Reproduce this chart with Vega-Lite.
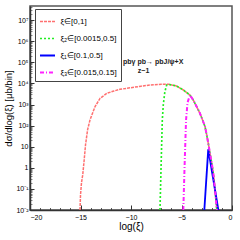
{
  "$schema": "https://vega.github.io/schema/vega-lite/v6.json",
  "width": 202,
  "height": 204,
  "autosize": {"type": "none"},
  "padding": {"left": 30, "top": 6, "right": 8, "bottom": 30},
  "background": "white",
  "config": {
    "font": "Liberation Sans",
    "view": {"stroke": "#555", "strokeWidth": 1.5},
    "axis": {"domainColor": "#333", "domainWidth": 1.5, "tickColor": "#333", "labelColor": "#000", "titleColor": "#000", "grid": false, "labelFont": "Liberation Sans", "titleFont": "Liberation Sans", "titleFontWeight": "normal"}
  },
  "datasets": {
    "curves": [
      {"s": "r", "x": -15.05, "y": 0.01}, {"s": "r", "x": -15.0, "y": 0.05}, {"s": "r", "x": -14.9, "y": 0.2},
      {"s": "r", "x": -14.78, "y": 0.457}, {"s": "r", "x": -14.65, "y": 2.0}, {"s": "r", "x": -14.5, "y": 12.6},
      {"s": "r", "x": -14.3, "y": 63}, {"s": "r", "x": -14.06, "y": 186}, {"s": "r", "x": -13.8, "y": 398},
      {"s": "r", "x": -13.56, "y": 794}, {"s": "r", "x": -13.07, "y": 1950}, {"s": "r", "x": -12.4, "y": 3390},
      {"s": "r", "x": -11.7, "y": 4365}, {"s": "r", "x": -11.1, "y": 5250}, {"s": "r", "x": -10.0, "y": 6310},
      {"s": "r", "x": -9.0, "y": 7413}, {"s": "r", "x": -8.1, "y": 8511}, {"s": "r", "x": -7.0, "y": 9120},
      {"s": "r", "x": -6.3, "y": 9120}, {"s": "r", "x": -5.5, "y": 7586}, {"s": "r", "x": -4.82, "y": 4898},
      {"s": "r", "x": -4.16, "y": 2818}, {"s": "r", "x": -3.83, "y": 1622}, {"s": "r", "x": -3.5, "y": 794},
      {"s": "r", "x": -3.17, "y": 380}, {"s": "r", "x": -2.9, "y": 178}, {"s": "r", "x": -2.67, "y": 89},
      {"s": "r", "x": -2.5, "y": 35.5}, {"s": "r", "x": -2.35, "y": 14.5}, {"s": "r", "x": -2.18, "y": 4.9},
      {"s": "r", "x": -2.0, "y": 1.58}, {"s": "r", "x": -1.85, "y": 0.55}, {"s": "r", "x": -1.68, "y": 0.089},
      {"s": "r", "x": -1.5, "y": 0.01},
      {"s": "g", "x": -7.13, "y": 0.01}, {"s": "g", "x": -7.02, "y": 1.26}, {"s": "g", "x": -6.9, "y": 186},
      {"s": "g", "x": -6.8, "y": 1000}, {"s": "g", "x": -6.65, "y": 3981}, {"s": "g", "x": -6.47, "y": 8318},
      {"s": "g", "x": -6.3, "y": 9120}, {"s": "g", "x": -5.5, "y": 7586}, {"s": "g", "x": -4.82, "y": 4898},
      {"s": "g", "x": -4.16, "y": 2818}, {"s": "g", "x": -3.83, "y": 1622}, {"s": "g", "x": -3.5, "y": 794},
      {"s": "g", "x": -3.17, "y": 380}, {"s": "g", "x": -2.9, "y": 178}, {"s": "g", "x": -2.67, "y": 89},
      {"s": "g", "x": -2.5, "y": 35.5}, {"s": "g", "x": -2.35, "y": 14.5}, {"s": "g", "x": -2.18, "y": 4.9},
      {"s": "g", "x": -2.0, "y": 1.58}, {"s": "g", "x": -1.85, "y": 0.55}, {"s": "g", "x": -1.68, "y": 0.089},
      {"s": "g", "x": -1.5, "y": 0.01},
      {"s": "b", "x": -2.74, "y": 0.01}, {"s": "b", "x": -2.35, "y": 7.6}, {"s": "b", "x": -1.35, "y": 0.01},
      {"s": "m", "x": -4.82, "y": 0.01}, {"s": "m", "x": -4.7, "y": 1}, {"s": "m", "x": -4.55, "y": 186},
      {"s": "m", "x": -4.4, "y": 1259}, {"s": "m", "x": -4.16, "y": 2818}, {"s": "m", "x": -3.83, "y": 1622},
      {"s": "m", "x": -3.5, "y": 794}, {"s": "m", "x": -3.17, "y": 380}, {"s": "m", "x": -2.9, "y": 178},
      {"s": "m", "x": -2.67, "y": 89}, {"s": "m", "x": -2.5, "y": 35.5}, {"s": "m", "x": -2.35, "y": 14.5},
      {"s": "m", "x": -2.18, "y": 4.9}, {"s": "m", "x": -2.0, "y": 1.58}, {"s": "m", "x": -1.85, "y": 0.55},
      {"s": "m", "x": -1.68, "y": 0.089}, {"s": "m", "x": -1.5, "y": 0.01}
    ],
    "notes": [
      {"t": "pbγ pb→ pbJ/ψ+X", "x": -7.8, "y": 100000},
      {"t": "z~1", "x": -8.76, "y": 39000}
    ]
  },
  "resolve": {"axis": {"x": "independent", "y": "independent"}},
  "layer": [
    {
      "data": {"name": "curves"},
      "mark": {"type": "line", "clip": true, "opacity": 0},
      "encoding": {
        "x": {"field": "x", "type": "quantitative", "scale": {"domain": [-20, 0], "nice": false, "zero": false},
          "axis": {"orient": "bottom", "values": [-19,-18,-17,-16,-14,-13,-12,-11,-9,-8,-7,-6,-4,-3,-2,-1], "labels": false, "title": null, "domain": false, "tickSize": -2.5, "tickWidth": 0.8}},
        "y": {"field": "y", "type": "quantitative", "scale": {"type": "log", "domain": [0.01, 47000000], "nice": false},
          "axis": {"orient": "left", "values": [0.02,0.03,0.04,0.05,0.06,0.07,0.08,0.09,0.2,0.3,0.4,0.5,0.6,0.7,0.8,0.9,2,3,4,5,6,7,8,9,20,30,40,50,60,70,80,90,200,300,400,500,600,700,800,900,2000,3000,4000,5000,6000,7000,8000,9000,20000,30000,40000,50000,60000,70000,80000,90000,200000,300000,400000,500000,600000,700000,800000,900000,2000000,3000000,4000000,5000000,6000000,7000000,8000000,9000000,20000000,30000000,40000000], "labels": false, "title": null, "domain": false, "tickSize": -2, "tickWidth": 0.6}},
        "detail": {"field": "s"}
      }
    },
    {
      "data": {"name": "curves"},
      "mark": {"type": "line", "clip": true},
      "encoding": {
        "x": {"field": "x", "type": "quantitative", "scale": {"domain": [-20, 0], "nice": false, "zero": false},
          "axis": {"orient": "bottom", "values": [-20, -15, -10, -5, 0], "title": "log(ξ)", "tickSize": -5, "tickWidth": 1, "labelPadding": 8, "labelFontSize": 7, "titleFontSize": 10, "titlePadding": 1}},
        "y": {"field": "y", "type": "quantitative", "scale": {"type": "log", "domain": [0.01, 47000000], "nice": false},
          "axis": {"orient": "left", "values": [0.01,0.1,1,10,100,1000,10000,100000,1000000,10000000], "title": "dσ/dlog(ξ) [μb/bin]", "tickSize": -4, "tickWidth": 1, "labelPadding": 6, "labelFontSize": 7, "titleFontSize": 9.5, "titlePadding": 2,
            "labelExpr": "['10⁻²','10⁻¹','1','10','10²','10³','10⁴','10⁵','10⁶','10⁷'][round(log(datum.value)/LN10)+2]"}},
        "color": {"field": "s", "type": "nominal",
          "scale": {"domain": ["r", "g", "b", "m"], "range": ["#ff7070", "#22ee22", "#0000ff", "#ff22ff"]},
          "legend": {"orient": "none", "legendX": 5, "legendY": 3, "title": null, "strokeColor": "#444", "fillColor": "white", "padding": 4, "symbolType": "stroke", "symbolSize": 225, "symbolStrokeWidth": 2, "rowPadding": 4, "labelFontSize": 8, "labelColor": "#000", "labelOffset": 4.5,
            "labelExpr": "{'r':'ξ∈[0,1]','g':'ξ₂∈[0.0015,0.5]','b':'ξ₁∈[0.1,0.5]','m':'ξ₃∈[0.015,0.15]'}[datum.value]"}},
        "strokeDash": {"field": "s", "type": "nominal",
          "scale": {"domain": ["r", "g", "b", "m"], "range": [[3, 1], [2, 2], [1, 0], [4, 2, 1, 2]]}, "legend": null},
        "strokeWidth": {"field": "s", "type": "nominal",
          "scale": {"domain": ["r", "g", "b", "m"], "range": [1.5, 2, 2, 2]}, "legend": null}
      }
    },
    {
      "data": {"name": "notes"},
      "mark": {"type": "text", "font": "Liberation Sans", "fontWeight": "bold", "fontSize": 7, "color": "#222"},
      "encoding": {
        "x": {"field": "x", "type": "quantitative", "axis": null},
        "y": {"field": "y", "type": "quantitative", "axis": null},
        "text": {"field": "t"}
      }
    }
  ]
}
